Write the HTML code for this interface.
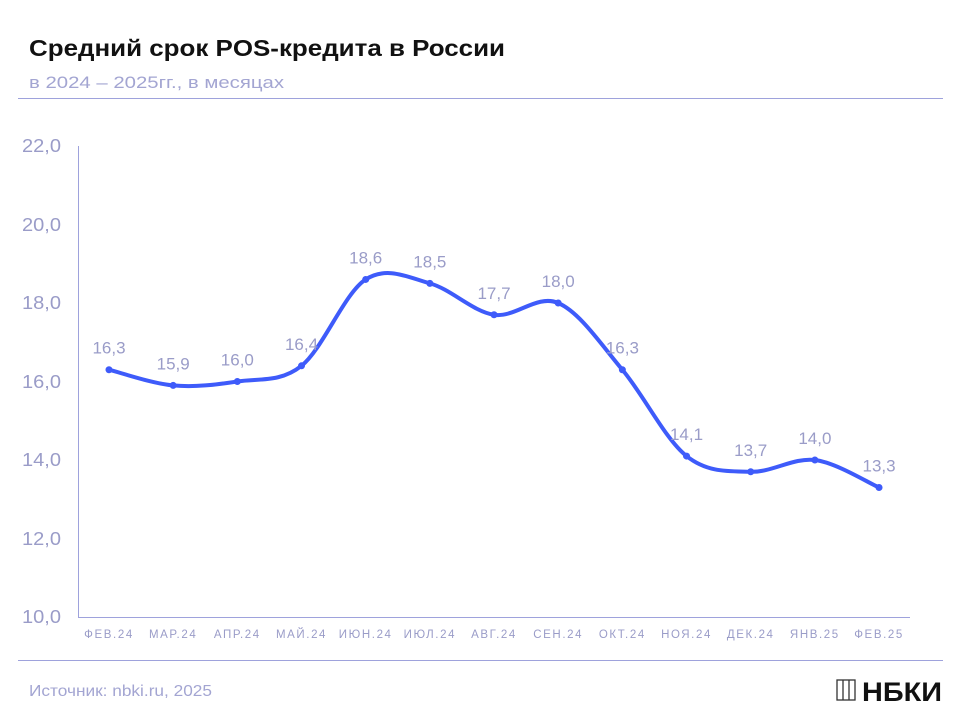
<!DOCTYPE html><html><head><meta charset="utf-8"><style>
body{margin:0;background:#fff;width:960px;height:720px;overflow:hidden;font-family:"Liberation Sans",sans-serif}
</style></head><body>
<svg width="960" height="720" xmlns="http://www.w3.org/2000/svg" font-family="Liberation Sans, sans-serif">
<text x="29" y="56" font-size="23" font-weight="bold" fill="#111" textLength="476" lengthAdjust="spacingAndGlyphs">Средний срок POS-кредита в России</text>
<text x="29" y="88" font-size="17" fill="#a3a5d2" textLength="255" lengthAdjust="spacingAndGlyphs">в 2024 – 2025гг., в месяцах</text>
<line x1="18" y1="98.5" x2="943" y2="98.5" stroke="#9ea2dc" stroke-width="1"/>
<line x1="78.5" y1="146" x2="78.5" y2="617" stroke="#9ea2dc"/>
<line x1="78" y1="617.5" x2="910" y2="617.5" stroke="#9ea2dc"/>
<g font-size="18" fill="#9a9cc8">
<text x="22" y="152" textLength="39" lengthAdjust="spacingAndGlyphs">22,0</text><text x="22" y="231" textLength="39" lengthAdjust="spacingAndGlyphs">20,0</text><text x="22" y="309" textLength="39" lengthAdjust="spacingAndGlyphs">18,0</text><text x="22" y="388" textLength="39" lengthAdjust="spacingAndGlyphs">16,0</text><text x="22" y="466" textLength="39" lengthAdjust="spacingAndGlyphs">14,0</text><text x="22" y="545" textLength="39" lengthAdjust="spacingAndGlyphs">12,0</text><text x="22" y="623" textLength="39" lengthAdjust="spacingAndGlyphs">10,0</text>
</g>
<g id="xl" font-size="11.5" fill="#9a9cc8" text-anchor="middle" letter-spacing="1.6"></g>
<path id="ln" fill="none" stroke="#3e5bfa" stroke-width="4" stroke-linejoin="round" stroke-linecap="round"/>
<g id="pts" fill="#3e5bfa"></g>
<g id="vl" font-size="17" fill="#9a9cc8" text-anchor="middle"></g>
<line x1="18" y1="660.5" x2="943" y2="660.5" stroke="#9ea2dc"/>
<text x="29" y="696" font-size="16" fill="#a3a5d2" textLength="183" lengthAdjust="spacingAndGlyphs">Источник: nbki.ru, 2025</text>
<g stroke="#333" fill="none" stroke-width="1.3"><rect x="837" y="680" width="18" height="20"/><line x1="843" y1="680" x2="843" y2="700"/><line x1="849" y1="680" x2="849" y2="700"/></g>
<text x="862" y="701" font-size="27" font-weight="bold" fill="#111" textLength="80" lengthAdjust="spacingAndGlyphs">НБКИ</text>
</svg>
<script>
var v=[16.3,15.9,16.0,16.4,18.6,18.5,17.7,18.0,16.3,14.1,13.7,14.0,13.3];
var m=["ФЕВ.24","МАР.24","АПР.24","МАЙ.24","ИЮН.24","ИЮЛ.24","АВГ.24","СЕН.24","ОКТ.24","НОЯ.24","ДЕК.24","ЯНВ.25","ФЕВ.25"];
var ns="http://www.w3.org/2000/svg",P=[];
for(var i=0;i<v.length;i++)P.push([109+i*64.17,617-(v[i]-10)*39.25]);
var d="M"+P[0][0]+","+P[0][1];
for(var i=0;i<P.length-1;i++){var p0=P[i-1]||P[i],p1=P[i],p2=P[i+1],p3=P[i+2]||p2;
var c1=[p1[0]+(p2[0]-p0[0])/6,p1[1]+(p2[1]-p0[1])/6],c2=[p2[0]-(p3[0]-p1[0])/6,p2[1]-(p3[1]-p1[1])/6];
d+=" C"+c1+" "+c2+" "+p2;}
document.getElementById("ln").setAttribute("d",d);
for(var i=0;i<P.length;i++){
var c=document.createElementNS(ns,"circle");c.setAttribute("cx",P[i][0]);c.setAttribute("cy",P[i][1]);c.setAttribute("r",3.5);document.getElementById("pts").appendChild(c);
var t=document.createElementNS(ns,"text");t.setAttribute("x",P[i][0]);t.setAttribute("y",P[i][1]-16);t.textContent=v[i].toFixed(1).replace(".",",");document.getElementById("vl").appendChild(t);
var x=document.createElementNS(ns,"text");x.setAttribute("x",P[i][0]);x.setAttribute("y",638);x.textContent=m[i];document.getElementById("xl").appendChild(x);}
</script>
</body></html>
